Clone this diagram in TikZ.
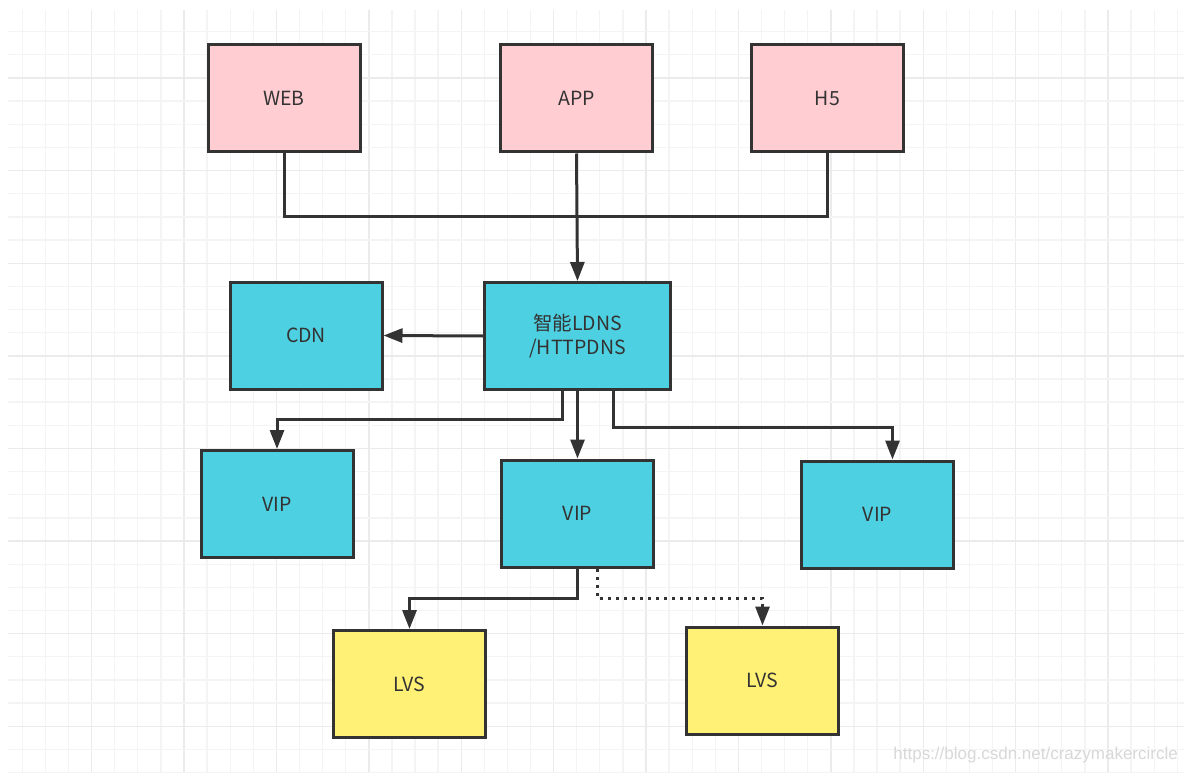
\documentclass[tikz,border=0pt]{standalone}
\usepackage{fontspec}
\setmainfont{Noto Sans CJK SC}
\newfontfamily\markfont{Liberation Sans}
\usetikzlibrary{arrows.meta}

\definecolor{inkgray}{HTML}{333333}
\definecolor{gridminor}{HTML}{F4F4F4}
\definecolor{gridmajor}{HTML}{EBEBEB}
\definecolor{clientpink}{HTML}{FFCDD2}
\definecolor{servicecyan}{HTML}{4DD0E1}
\definecolor{lvsyellow}{HTML}{FFF176}
\definecolor{markgray}{HTML}{D8D8D8}

\tikzset{
  box/.style={draw=inkgray, line width=3pt, minimum width=152pt,
    minimum height=107pt, inner sep=0pt, text=inkgray, align=center,
    font=\fontsize{19.5}{24}\selectfont},
  client/.style={box, fill=clientpink},
  service/.style={box, fill=servicecyan},
  lvs/.style={box, fill=lvsyellow},
  wire/.style={draw=inkgray, line width=3pt},
  flow/.style={wire, -{Triangle[length=19pt,width=14pt]}},
  dotflow/.style={flow, dash pattern=on 3pt off 5pt}
}

\begin{document}
\begin{tikzpicture}[x=1pt, y=-1pt]
  \useasboundingbox (0,0) rectangle (1184,773);
  \fill[white] (0,0) rectangle (1184,773);

  % background grid: minor lines, every fourth line a shade darker
  \foreach \k in {0,...,50} {
    \pgfmathsetmacro\gx{22.3+23.1*\k}
    \pgfmathtruncatemacro\gm{mod(\k+1,4)}
    \ifdim\gx pt<1184pt
      \ifnum\gm=0
        \draw[gridmajor, line width=1.4pt] (\gx,10) -- (\gx,773);
      \else
        \draw[gridminor, line width=1.3pt] (\gx,10) -- (\gx,773);
      \fi
    \fi
  }
  \foreach \k in {0,...,33} {
    \pgfmathsetmacro\gy{31.7+23.15*\k}
    \pgfmathtruncatemacro\gm{mod(\k+2,4)}
    \ifdim\gy pt<773pt
      \ifnum\gm=0
        \draw[gridmajor, line width=1.4pt] (8,\gy) -- (1184,\gy);
      \else
        \draw[gridminor, line width=1.3pt] (8,\gy) -- (1184,\gy);
      \fi
    \fi
  }

  % clients
  \node[client] (web) at (284,98.5) {WEB};
  \node[client] (app) at (576.5,98.5) {APP};
  \node[client] (h5)  at (827.5,98.5) {H5};

  % DNS layer
  \node[service, minimum width=186pt] (ldns) at (577.5,336) {智能LDNS\\/HTTPDNS};
  \node[service] (cdn) at (306,335.5) {CDN};

  % VIP layer
  \node[service] (vipa) at (277,504) {VIP};
  \node[service] (vipb) at (577.5,513.5) {VIP};
  \node[service] (vipc) at (877.5,514.5) {VIP};

  % LVS layer
  \node[lvs] (lvsa) at (409.5,684) {LVS};
  \node[lvs] (lvsb) at (762.5,680.5) {LVS};

  % client bus
  \coordinate (bus) at (0,216);
  \draw[wire] (web.south) -- (web.south |- bus) -- (h5.south |- bus) -- (h5.south);
  \draw[flow] (app.south) -- (ldns.north);

  % DNS fan-out
  \draw[flow] (ldns.west) -- (cdn.east);
  \draw[flow] ([xshift=-15.5pt]ldns.south) -- ++(0,28) -| (vipa.north);
  \draw[flow] (ldns.south) -- (vipb.north);
  \draw[flow] ([xshift=35.5pt]ldns.south) -- ++(0,36) -| ([xshift=15pt]vipc.north);

  % VIP to LVS
  \draw[flow] (vipb.south) -- ++(0,29.5) -| (lvsa.north);
  \draw[dotflow] ([xshift=20pt]vipb.south) -- ++(0,29.5) -| (lvsb.north);

  % watermark
  \node[anchor=east, text=markgray, inner sep=0pt,
        font=\markfont\fontsize{17}{20}\selectfont] (mark) at (1178,755)
        {https://blog.csdn.net/crazymakercircle};
\end{tikzpicture}
\end{document}
